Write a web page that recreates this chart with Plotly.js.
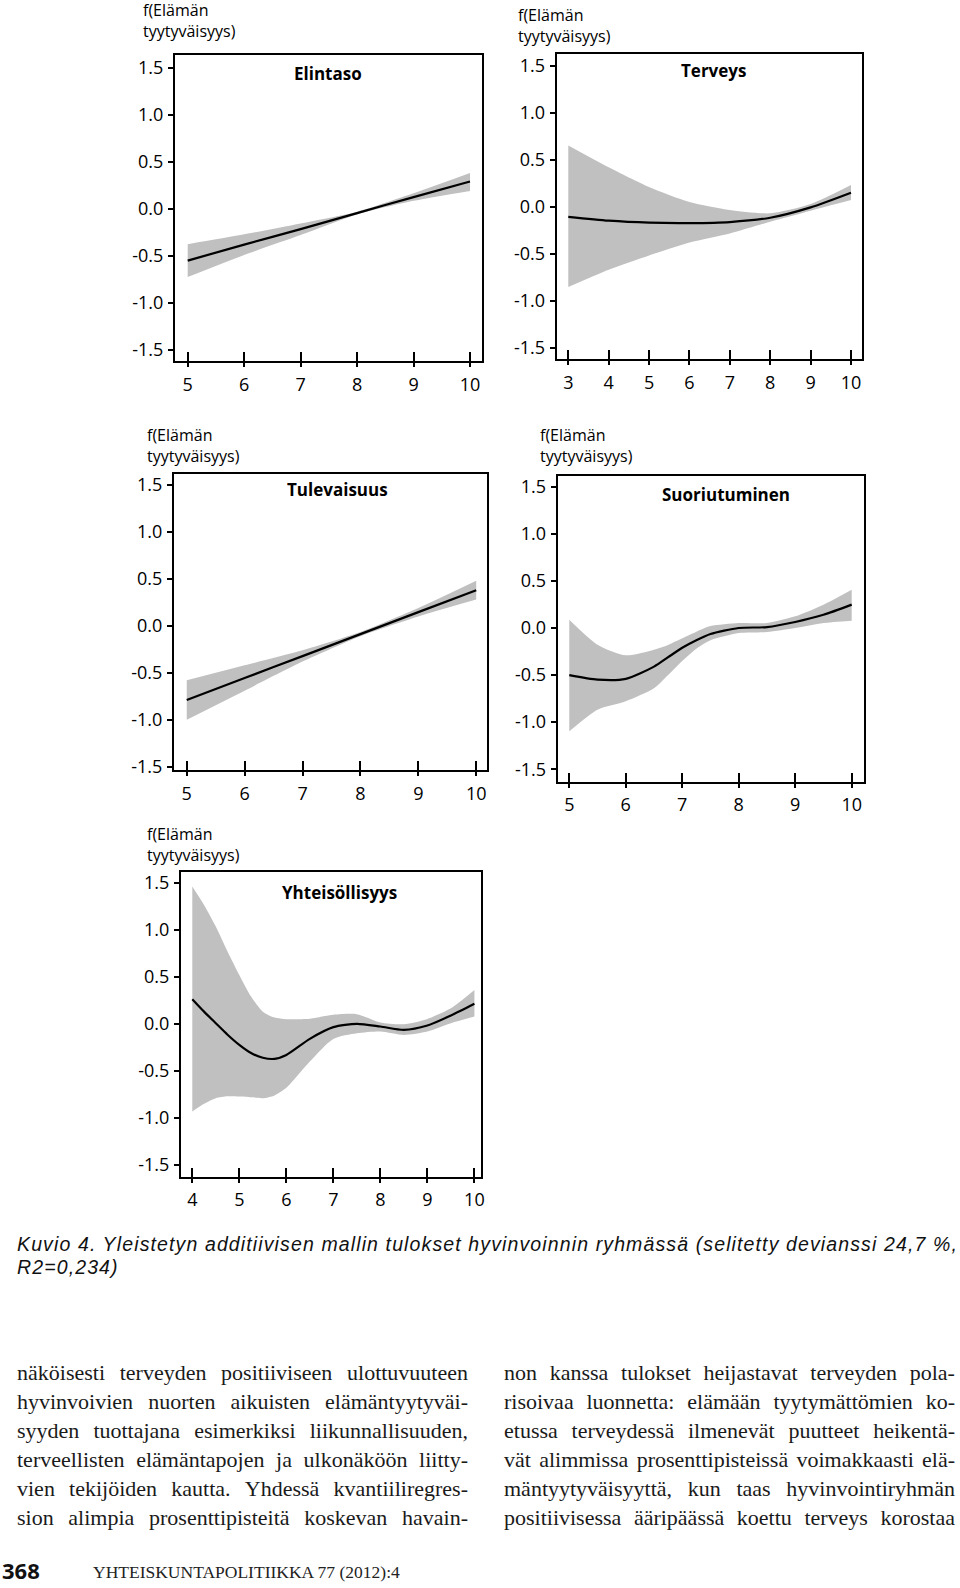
<!DOCTYPE html>
<html>
<head>
<meta charset="utf-8">
<script src="https://cdn.plot.ly/plotly-3.0.1.min.js"></script>
<style>
  html, body { margin: 0; padding: 0; background: #ffffff; }
  #page { position: relative; width: 960px; height: 1588px; overflow: hidden; background: #fff; }
  #plot { position: absolute; left: 0; top: 0; width: 960px; height: 1225px; }
  #caption { position: absolute; left: 17px; top: 1233px; width: 943px; font-family: "Liberation Sans", Arial, sans-serif; font-style: italic; font-weight: 400; font-size: 19.5px; color: #111; }
  .capline { display: block; height: 22.5px; line-height: 22.5px; white-space: nowrap; overflow: visible; }
  .col { position: absolute; top: 1358px; width: 451px; font-family: "Liberation Serif", "DejaVu Serif", serif; font-size: 22px; line-height: 29px; color: #1a1a1a; }
  .line { display: flex; justify-content: space-between; white-space: nowrap; height: 29px; }
  #foot-num { position: absolute; left: 2px; top: 1556px; font-family: "Open Sans", sans-serif; font-weight: 700; font-size: 22px; line-height: 28px; color: #111; }
  #foot-journal { position: absolute; left: 93px; top: 1561px; font-family: "Liberation Serif", serif; font-size: 17.5px; line-height: 22px; color: #222; white-space: nowrap; }
</style>
</head>
<body>
<div id="page">
  <div id="plot"></div>
  <div id="caption"></div>
  <div class="col" id="colLeft" style="left:17px;"></div>
  <div class="col" id="colRight" style="left:504px;"></div>
  <div id="foot-num"></div>
  <div id="foot-journal"></div>
</div>
<script>
// ---------------- DATA ----------------
const panelNames = ['Elintaso', 'Terveys', 'Tulevaisuus', 'Suoriutuminen', 'Yhteisöllisyys'];
const yAxisLabel = 'f(Elämän<br>tyytyväisyys)';
const yTickVals = [-1.5, -1.0, -0.5, 0.0, 0.5, 1.0, 1.5];
const yTickText = ['-1.5', '-1.0', '-0.5', '0.0', '0.5', '1.0', '1.5'];

const elintasoTicks = [5, 6, 7, 8, 9, 10];
const elintasoX     = [5, 6, 7, 8, 9, 10];
const elintasoFit   = [-0.55, -0.38, -0.215, -0.045, 0.125, 0.29];
const elintasoUpper = [-0.375, -0.27, -0.155, -0.03, 0.165, 0.38];
const elintasoLower = [-0.725, -0.49, -0.278, -0.06, 0.085, 0.19];

const terveysTicks = [3, 4, 5, 6, 7, 8, 9, 10];
const terveysX     = [3, 4, 5, 6, 7, 8, 9, 10];
const terveysFit   = [-0.108, -0.149, -0.17, -0.174, -0.163, -0.117, -0.007, 0.149];
const terveysUpper = [0.652, 0.42, 0.21, 0.05, -0.035, -0.07, 0.028, 0.23];
const terveysLower = [-0.854, -0.67, -0.518, -0.38, -0.284, -0.16, -0.043, 0.07];

const tulevaisuusTicks = [5, 6, 7, 8, 9, 10];
const tulevaisuusX     = [5, 6, 7, 8, 9, 10];
const tulevaisuusFit   = [-0.79, -0.556, -0.322, -0.088, 0.146, 0.38];
const tulevaisuusUpper = [-0.58, -0.42, -0.26, -0.065, 0.19, 0.48];
const tulevaisuusLower = [-1.0, -0.69, -0.38, -0.11, 0.10, 0.28];

const suoriutuminenTicks = [5, 6, 7, 8, 9, 10];
const suoriutuminenX     = [5, 5.5, 6, 6.5, 6.75, 7, 7.25, 7.5, 8, 8.5, 9, 9.5, 10];
const suoriutuminenFit   = [-0.50, -0.548, -0.54, -0.41, -0.31, -0.21, -0.13, -0.064, 0.0, 0.01, 0.064, 0.14, 0.248];
const suoriutuminenUpper = [0.088, -0.177, -0.29, -0.23, -0.18, -0.11, -0.04, 0.02, 0.053, 0.053, 0.124, 0.248, 0.407];
const suoriutuminenLower = [-1.097, -0.867, -0.778, -0.64, -0.50, -0.35, -0.22, -0.13, -0.053, -0.042, 0.0, 0.053, 0.078];

const yhteisollisyysTicks = [4, 5, 6, 7, 8, 9, 10];
const yhteisollisyysX     = [4, 4.25, 4.5, 4.75, 5, 5.25, 5.5, 5.75, 6, 6.5, 7, 7.5, 8, 8.5, 9, 9.5, 10];
const yhteisollisyysFit   = [0.262, 0.13, 0.007, -0.115, -0.223, -0.31, -0.36, -0.372, -0.33, -0.159, -0.035, 0.0, -0.028, -0.064, -0.018, 0.089, 0.213];
const yhteisollisyysUpper = [1.46, 1.264, 1.035, 0.77, 0.52, 0.29, 0.13, 0.067, 0.05, 0.055, 0.096, 0.103, 0.014, -0.004, 0.053, 0.166, 0.36];
const yhteisollisyysLower = [-0.932, -0.85, -0.79, -0.77, -0.772, -0.78, -0.79, -0.76, -0.68, -0.40, -0.16, -0.1, -0.081, -0.117, -0.081, 0.007, 0.078];

const captionLines = [
  'Kuvio 4. Yleistetyn additiivisen mallin tulokset hyvinvoinnin ryhmässä (selitetty devianssi 24,7 %,',
  'R2=0,234)'
];
const leftColumnLines = [
  'näköisesti terveyden positiiviseen ulottuvuuteen',
  'hyvinvoivien nuorten aikuisten elämäntyytyväi-',
  'syyden tuottajana esimerkiksi liikunnallisuuden,',
  'terveellisten elämäntapojen ja ulkonäköön liitty-',
  'vien tekijöiden kautta. Yhdessä kvantiiliregres-',
  'sion alimpia prosenttipisteitä koskevan havain-'
];
const rightColumnLines = [
  'non kanssa tulokset heijastavat terveyden pola-',
  'risoivaa luonnetta: elämään tyytymättömien ko-',
  'etussa terveydessä ilmenevät puutteet heikentä-',
  'vät alimmissa prosenttipisteissä voimakkaasti elä-',
  'mäntyytyväisyyttä, kun taas hyvinvointiryhmän',
  'positiivisessa ääripäässä koettu terveys korostaa'
];
const pageNumber = '368';
const journalName = 'YHTEISKUNTAPOLITIIKKA 77 (2012):4';

// ---------------- LAYOUT (pixel geometry of the figure area) ----------------
const W = 960, H = 1225;
// box: [left, right, top, bottom] px; xr/yr axis ranges; title: [cx, cy]; ylab: [x, cy]
const panelGeom = [
  { box: [175, 481.7, 55, 361],       xr: [4.775, 10.207], yr: [-1.617, 1.635], title: [328, 73],  ylab: [141, 21] },
  { box: [556.7, 861.7, 54.3, 359.3], xr: [2.713, 10.265], yr: [-1.623, 1.621], title: [713, 70],  ylab: [516, 25] },
  { box: [174, 486.7, 474.3, 770],    xr: [4.78, 10.181],  yr: [-1.535, 1.614], title: [337, 489], ylab: [145, 446] },
  { box: [557.7, 864, 476, 781.7],    xr: [4.795, 10.218], yr: [-1.632, 1.614], title: [726, 495], ylab: [538, 445] },
  { box: [181, 481, 871.7, 1176.7],   xr: [3.76, 10.14],   yr: [-1.624, 1.617], title: [339, 892], ylab: [145, 844] }
];

const panelData = [
  { ticks: elintasoTicks, x: elintasoX, fit: elintasoFit, up: elintasoUpper, lo: elintasoLower },
  { ticks: terveysTicks, x: terveysX, fit: terveysFit, up: terveysUpper, lo: terveysLower },
  { ticks: tulevaisuusTicks, x: tulevaisuusX, fit: tulevaisuusFit, up: tulevaisuusUpper, lo: tulevaisuusLower },
  { ticks: suoriutuminenTicks, x: suoriutuminenX, fit: suoriutuminenFit, up: suoriutuminenUpper, lo: suoriutuminenLower },
  { ticks: yhteisollisyysTicks, x: yhteisollisyysX, fit: yhteisollisyysFit, up: yhteisollisyysUpper, lo: yhteisollisyysLower }
];

const tickFont = { family: 'Open Sans, sans-serif', size: 18, color: '#000' };
const bandColor = 'rgb(192,192,192)';

const traces = [];
const layout = {
  width: W, height: H,
  margin: { l: 0, r: 0, t: 0, b: 0 },
  paper_bgcolor: 'rgba(0,0,0,0)', plot_bgcolor: 'rgba(0,0,0,0)',
  showlegend: false,
  annotations: []
};

function px2x(px) { return px / W; }
function px2y(py) { return 1 - py / H; }

panelGeom.forEach((g, i) => {
  const d = panelData[i];
  const n = i + 1;
  const xid = n === 1 ? 'x' : 'x' + n;
  const yid = n === 1 ? 'y' : 'y' + n;
  const xkey = n === 1 ? 'xaxis' : 'xaxis' + n;
  const ykey = n === 1 ? 'yaxis' : 'yaxis' + n;
  const ovN = n + 5;
  const ovId = 'x' + ovN;
  const ovKey = 'xaxis' + ovN;

  const line = { shape: 'spline', smoothing: 0.7 };
  traces.push({ type: 'scatter', mode: 'lines', x: d.x, y: d.lo, xaxis: xid, yaxis: yid,
    line: Object.assign({ width: 0, color: bandColor }, line), hoverinfo: 'skip' });
  traces.push({ type: 'scatter', mode: 'lines', x: d.x, y: d.up, xaxis: xid, yaxis: yid,
    fill: 'tonexty', fillcolor: bandColor,
    line: Object.assign({ width: 0, color: bandColor }, line), hoverinfo: 'skip' });
  traces.push({ type: 'scatter', mode: 'lines', x: d.x, y: d.fit, xaxis: xid, yaxis: yid,
    line: Object.assign({ width: 2.2, color: '#000' }, line) });
  traces.push({ type: 'scatter', mode: 'lines', x: [null], y: [null], xaxis: ovId, yaxis: yid, hoverinfo: 'skip' });

  layout[xkey] = {
    domain: [px2x(g.box[0]), px2x(g.box[1])], range: g.xr, anchor: yid,
    tickmode: 'array', tickvals: d.ticks, ticktext: d.ticks.map(String),
    ticks: 'outside', ticklen: 4, tickwidth: 2, tickcolor: '#000',
    showline: true, linewidth: 2, linecolor: '#000', mirror: true,
    showgrid: false, zeroline: false, tickfont: tickFont, ticklabelstandoff: 2, fixedrange: true
  };
  layout[ovKey] = {
    overlaying: xid, anchor: yid, range: g.xr, side: 'bottom',
    tickmode: 'array', tickvals: d.ticks,
    ticks: 'inside', ticklen: 9, tickwidth: 2, tickcolor: '#000',
    showticklabels: false, showline: false, showgrid: false, zeroline: false, fixedrange: true
  };
  layout[ykey] = {
    domain: [px2y(g.box[3]), px2y(g.box[2])], range: g.yr, anchor: xid,
    tickmode: 'array', tickvals: yTickVals, ticktext: yTickText,
    ticks: 'outside', ticklen: 5, tickwidth: 2, tickcolor: '#000',
    showline: true, linewidth: 2, linecolor: '#000', mirror: true,
    showgrid: false, zeroline: false, tickfont: tickFont, ticklabelstandoff: 1, fixedrange: true
  };

  layout.annotations.push({
    xref: 'paper', yref: 'paper', x: px2x(g.title[0]), y: px2y(g.title[1]),
    xanchor: 'center', yanchor: 'middle', showarrow: false,
    text: '<b>' + panelNames[i] + '</b>',
    font: { family: 'Open Sans, sans-serif', size: 17, color: '#000' }
  });
  layout.annotations.push({
    xref: 'paper', yref: 'paper', x: px2x(g.ylab[0]), y: px2y(g.ylab[1]),
    xanchor: 'left', yanchor: 'middle', align: 'left', showarrow: false,
    text: yAxisLabel,
    font: { family: 'Open Sans, sans-serif', size: 16, color: '#000' }
  });
});

Plotly.newPlot('plot', traces, layout, { staticPlot: true, displayModeBar: false });

// ---------------- TEXT ----------------
const cap = document.getElementById('caption');
captionLines.forEach(t => {
  const d = document.createElement('div');
  d.className = 'capline';
  d.textContent = t;
  cap.appendChild(d);
});
// stretch the first caption line to the printed measure (941 px)
(function fitCaption() {
  const first = cap.querySelector('.capline');
  const r = document.createRange();
  r.selectNodeContents(first);
  const w = r.getBoundingClientRect().width;
  const ls = (941 - w) / captionLines[0].length;
  cap.style.letterSpacing = ls.toFixed(3) + 'px';
})();

function fillColumn(id, lines) {
  const col = document.getElementById(id);
  lines.forEach(l => {
    const div = document.createElement('div');
    div.className = 'line';
    l.split(' ').forEach(w => {
      const s = document.createElement('span');
      s.textContent = w;
      div.appendChild(s);
    });
    col.appendChild(div);
  });
}
fillColumn('colLeft', leftColumnLines);
fillColumn('colRight', rightColumnLines);
document.getElementById('foot-num').textContent = pageNumber;
document.getElementById('foot-journal').textContent = journalName;
</script>
</body>
</html>
